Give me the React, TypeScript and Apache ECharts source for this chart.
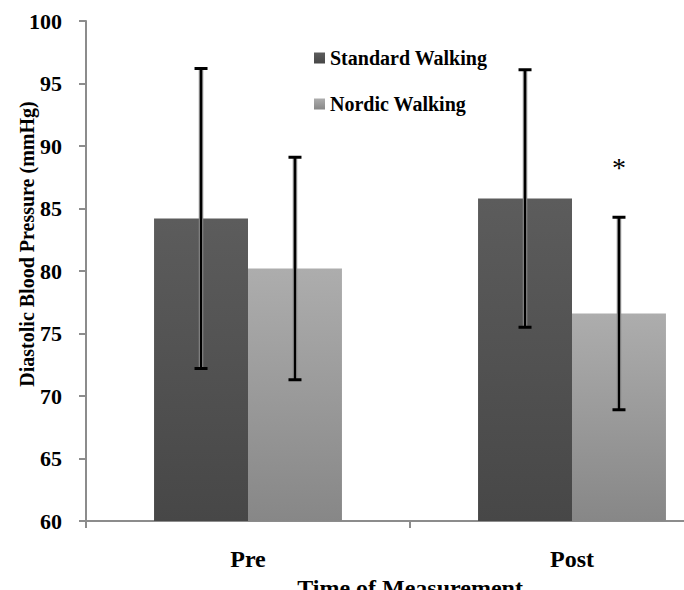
import React, { useEffect, useRef } from "react";
import * as echarts from "echarts";

const categories = ["Pre", "Post"];
const seriesNames = ["Standard Walking", "Nordic Walking"];
const standardMean = [84.2, 85.8];
const nordicMean = [80.2, 76.6];
const standardSD = [12.0, 10.3];
const nordicSD = [8.9, 7.7];
const nordicSignificance = ["", "*"];
const yTicks = [60, 65, 70, 75, 80, 85, 90, 95, 100];
const yAxisTitle = "Diastolic Blood Pressure (mmHg)";
const xAxisTitle = "Time of Measurement";

const FONT = "'Liberation Serif', 'DejaVu Serif', serif";
const BAR_CATEGORY_GAP = 0.42;

export default function App() {
  const ref = useRef<HTMLDivElement>(null);
  useEffect(() => {
    if (!ref.current) return;
    const chart = echarts.init(ref.current, undefined, { renderer: "svg" });

    const darkGrad = new echarts.graphic.LinearGradient(0, 0, 0, 1, [
      { offset: 0, color: "#5c5c5c" },
      { offset: 1, color: "#474747" },
    ]);
    const lightGrad = new echarts.graphic.LinearGradient(0, 0, 0, 1, [
      { offset: 0, color: "#adadad" },
      { offset: 1, color: "#878787" },
    ]);

    const errData: number[][] = [];
    const errMarkers: string[] = [];
    categories.forEach((_, i) => {
      errData.push([i, standardMean[i], standardSD[i], 0]);
      errMarkers.push("");
      errData.push([i, nordicMean[i], nordicSD[i], 1]);
      errMarkers.push(nordicSignificance[i]);
    });

    const option: any = {
      animation: false,
      backgroundColor: "#ffffff",
      textStyle: { fontFamily: FONT },
      grid: { left: 86, right: -50, top: 21, bottom: 69, outerBoundsMode: "none", containLabel: false },
      legend: {
        orient: "vertical",
        left: 309,
        top: 43,
        itemGap: 26,
        itemWidth: 11,
        itemHeight: 11,
        icon: "rect",
        data: seriesNames,
        textStyle: { fontFamily: FONT, fontWeight: "bold", fontSize: 20, color: "#000" },
      },
      xAxis: {
        type: "category",
        data: categories,
        name: xAxisTitle,
        nameLocation: "middle",
        nameGap: 46,
        nameTextStyle: { fontFamily: FONT, fontWeight: "bold", fontSize: 24, color: "#000" },
        axisLine: { lineStyle: { color: "#8c8c8c", width: 2 } },
        axisTick: { show: true, length: 7, lineStyle: { color: "#8c8c8c", width: 2 } },
        axisLabel: { margin: 26, fontFamily: FONT, fontWeight: "bold", fontSize: 24, color: "#000" },
      },
      yAxis: {
        type: "value",
        min: yTicks[0],
        max: yTicks[yTicks.length - 1],
        interval: 5,
        axisLine: { show: true, lineStyle: { color: "#8c8c8c", width: 2 } },
        axisTick: { show: true, length: 7, lineStyle: { color: "#8c8c8c", width: 2 } },
        splitLine: { show: false },
        axisLabel: { margin: 24, fontFamily: FONT, fontWeight: "bold", fontSize: 22, color: "#000" },
      },
      graphic: [
        {
          type: "text",
          x: 27,
          y: 244,
          rotation: Math.PI / 2,
          style: {
            text: yAxisTitle,
            fontFamily: FONT,
            fontWeight: "bold",
            fontSize: 20,
            fill: "#000",
            align: "center",
            verticalAlign: "middle",
          },
          z: 10,
        },
      ],
      series: [
        {
          name: seriesNames[0],
          type: "bar",
          data: standardMean,
          barGap: "0%",
          barCategoryGap: BAR_CATEGORY_GAP * 100 + "%",
          itemStyle: { color: darkGrad },
        },
        {
          name: seriesNames[1],
          type: "bar",
          data: nordicMean,
          barGap: "0%",
          barCategoryGap: BAR_CATEGORY_GAP * 100 + "%",
          itemStyle: { color: lightGrad },
        },
        {
          type: "custom",
          z: 5,
          data: errData,
          renderItem: (params: any, api: any) => {
            const cat = api.value(0);
            const mean = api.value(1);
            const sd = api.value(2);
            const g = api.value(3);
            const catW = api.size([1, 0])[0];
            const barW = (catW * (1 - BAR_CATEGORY_GAP)) / 2;
            const offset = (g === 0 ? -0.5 : 0.5) * barW;
            const top = api.coord([cat, mean + sd]);
            const bot = api.coord([cat, mean - sd]);
            const x = top[0] + offset;
            const capHalf = 6.5;
            const children: any[] = [
              { type: "line", shape: { x1: x, y1: top[1], x2: x, y2: bot[1] }, style: { stroke: "#8a8a8a", lineWidth: 4.5 } },
              { type: "line", shape: { x1: x, y1: top[1], x2: x, y2: bot[1] }, style: { stroke: "#000", lineWidth: 2.2 } },
              { type: "line", shape: { x1: x - capHalf, y1: top[1], x2: x + capHalf, y2: top[1] }, style: { stroke: "#000", lineWidth: 3 } },
              { type: "line", shape: { x1: x - capHalf, y1: bot[1], x2: x + capHalf, y2: bot[1] }, style: { stroke: "#000", lineWidth: 3 } },
            ];
            const marker = errMarkers[params.dataIndex];
            if (marker) {
              children.push({
                type: "text",
                x: x,
                y: top[1] - 50,
                style: {
                  text: marker,
                  fontFamily: FONT,
                  fontSize: 28,
                  fill: "#000",
                  align: "center",
                  verticalAlign: "middle",
                },
              });
            }
            return { type: "group", children };
          },
        },
      ],
    };
    chart.setOption(option);
    return () => chart.dispose();
  }, []);
  return <div ref={ref} style={{ position: "fixed", left: 0, top: 0, width: 684, height: 590 }} />;
}
